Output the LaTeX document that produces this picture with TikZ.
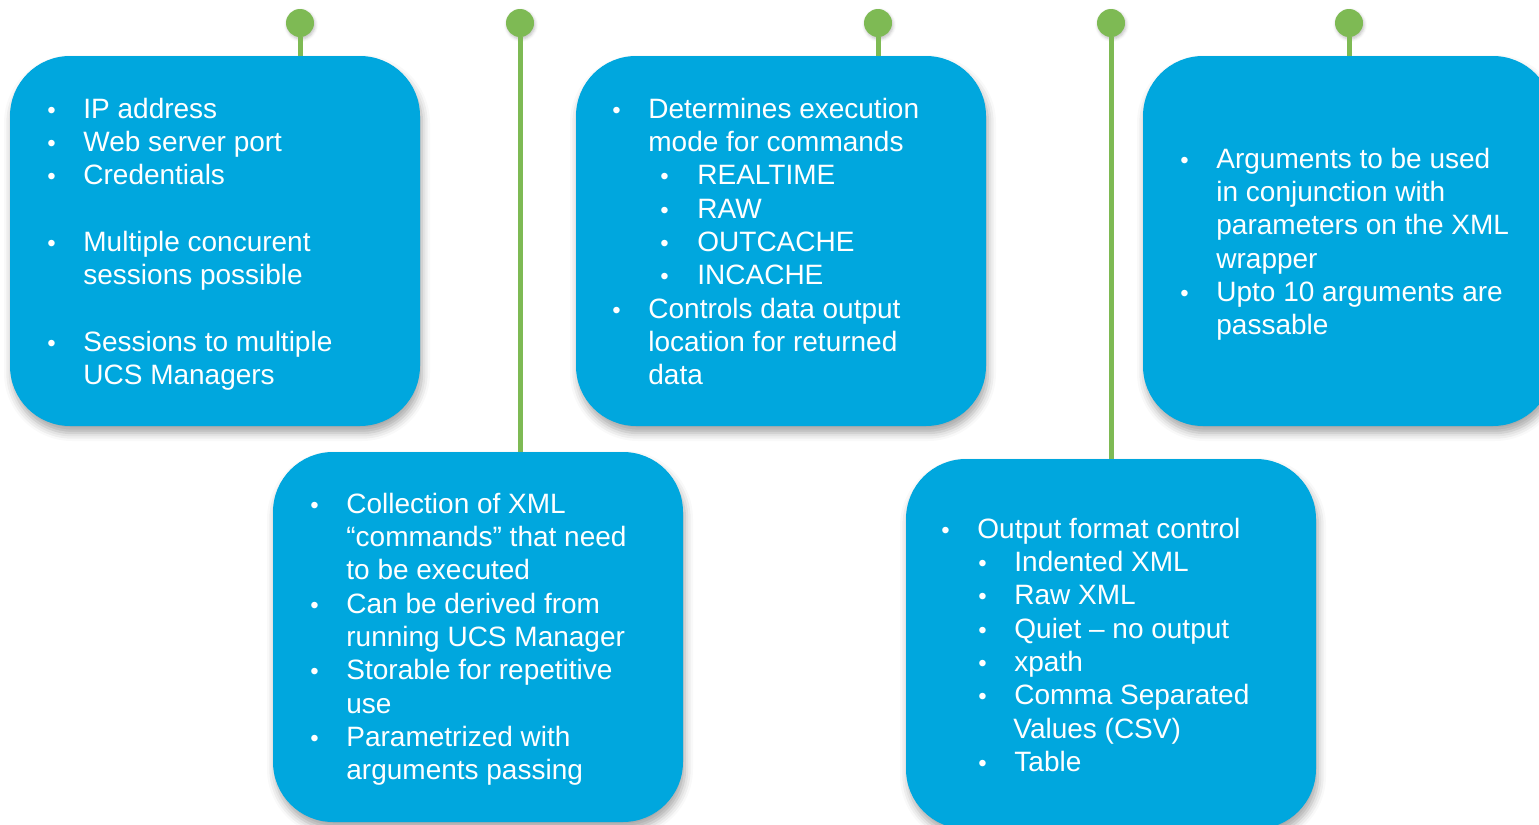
\documentclass[tikz,border=0pt]{standalone}
\usepackage{fontspec}
\setmainfont{Liberation Sans}
\usetikzlibrary{shadows.blur}
\definecolor{cardblue}{RGB}{0,167,222}
\definecolor{pingreen}{RGB}{126,186,84}
\newcommand\bulmark{\hspace*{-2.5pt}{\fontsize{12}{14}\selectfont •}}
\newcommand\bl{\makebox[15.5pt][l]{\bulmark}}
\newcommand\ct{\hspace*{15.5pt}}

\begin{document}
\begin{tikzpicture}
      [x=0.5pt, y=-0.5pt,
       card/.style={
           rectangle,
           rounded corners=30pt,
           fill=cardblue,
           minimum width=205pt, minimum height=185pt,
           inner sep=0pt,
           blur shadow={shadow xshift=1pt, shadow yshift=-3.5pt,
                        shadow blur radius=4pt, shadow opacity=35}
         },
       pin/.style={
           circle, fill=pingreen,
           minimum size=14pt, inner sep=0pt,
           blur shadow={shadow xshift=0.5pt, shadow yshift=-1pt,
                        shadow blur radius=1.5pt, shadow opacity=25}
         },
       stem/.style={draw=pingreen, line width=2.5pt},
       txt/.style={
           text=white, inner sep=0pt, anchor=base west,
           font=\fontsize{14}{16.68}\selectfont
         },
       ]
    \useasboundingbox (0,0) rectangle (1539,825);
    \clip (0,0) rectangle (1539,825);

    % the five cards
    \node [card] (sess) at (215,241) {};
    \node [card] (script) at (478,637) {};
    \node [card] (mode) at (781,241) {};
    \node [card] (fmt) at (1111,644) {};
    \node [card] (args) at (1348,241) {};

    % pins on top
    \node [pin] (sesspin) at (300,23) {};
    \node [pin] (scriptpin) at (520,23) {};
    \node [pin] (modepin) at (878,23) {};
    \node [pin] (fmtpin) at (1111,23) {};
    \node [pin] (argspin) at (1349,23) {};

    \draw [stem] (sesspin.south) -- (sesspin |- sess.north);
    \draw [stem] (scriptpin.south) -- (scriptpin |- script.north);
    \draw [stem] (modepin.south) -- (modepin |- mode.north);
    \draw [stem] (fmtpin.south) -- (fmtpin |- fmt.north);
    \draw [stem] (argspin.south) -- (argspin |- args.north);

    \node [txt] (sesstext) at (52,118) {\begin{minipage}[t]{200pt}\raggedright
      \bl IP address\\
      \bl Web server port\\
      \bl Credentials\\
      \mbox{}\\
      \bl Multiple concurent\\
      \ct sessions possible\\
      \mbox{}\\
      \bl Sessions to multiple\\
      \ct UCS Managers
    \end{minipage}};

    \node [txt] (scripttext) at (315,513) {\begin{minipage}[t]{200pt}\raggedright
      \bl Collection of XML\\
      \ct “commands” that need\\
      \ct to be executed\\
      \bl Can be derived from\\
      \ct running UCS Manager\\
      \bl Storable for repetitive\\
      \ct use\\
      \bl Parametrized with\\
      \ct arguments passing
    \end{minipage}};

    \node [txt] (modetext) at (617,118) {\begin{minipage}[t]{200pt}\raggedright
      \bl Determines execution\\
      \ct mode for commands\\
      \hspace*{24pt}\makebox[16pt][l]{\bulmark}REALTIME\\
      \hspace*{24pt}\makebox[16pt][l]{\bulmark}RAW\\
      \hspace*{24pt}\makebox[16pt][l]{\bulmark}OUTCACHE\\
      \hspace*{24pt}\makebox[16pt][l]{\bulmark}INCACHE\\
      \bl Controls data output\\
      \ct location for returned\\
      \ct data
    \end{minipage}};

    \node [txt] (fmttext) at (946,538) {\begin{minipage}[t]{200pt}\raggedright
      \bl Output format control\\
      \hspace*{18.5pt}\bl Indented XML\\
      \hspace*{18.5pt}\bl Raw XML\\
      \hspace*{18.5pt}\bl Quiet – no output\\
      \hspace*{18.5pt}\bl xpath\\
      \hspace*{18.5pt}\bl Comma Separated\\
      \hspace*{33.5pt}Values (CSV)\\
      \hspace*{18.5pt}\bl Table
    \end{minipage}};

    \node [txt] (argstext) at (1185,168) {\begin{minipage}[t]{200pt}\raggedright
      \bl Arguments to be used\\
      \ct in conjunction with\\
      \ct parameters on the XML\\
      \ct wrapper\\
      \bl Upto 10 arguments are\\
      \ct passable
    \end{minipage}};

  \end{tikzpicture}
\end{document}
